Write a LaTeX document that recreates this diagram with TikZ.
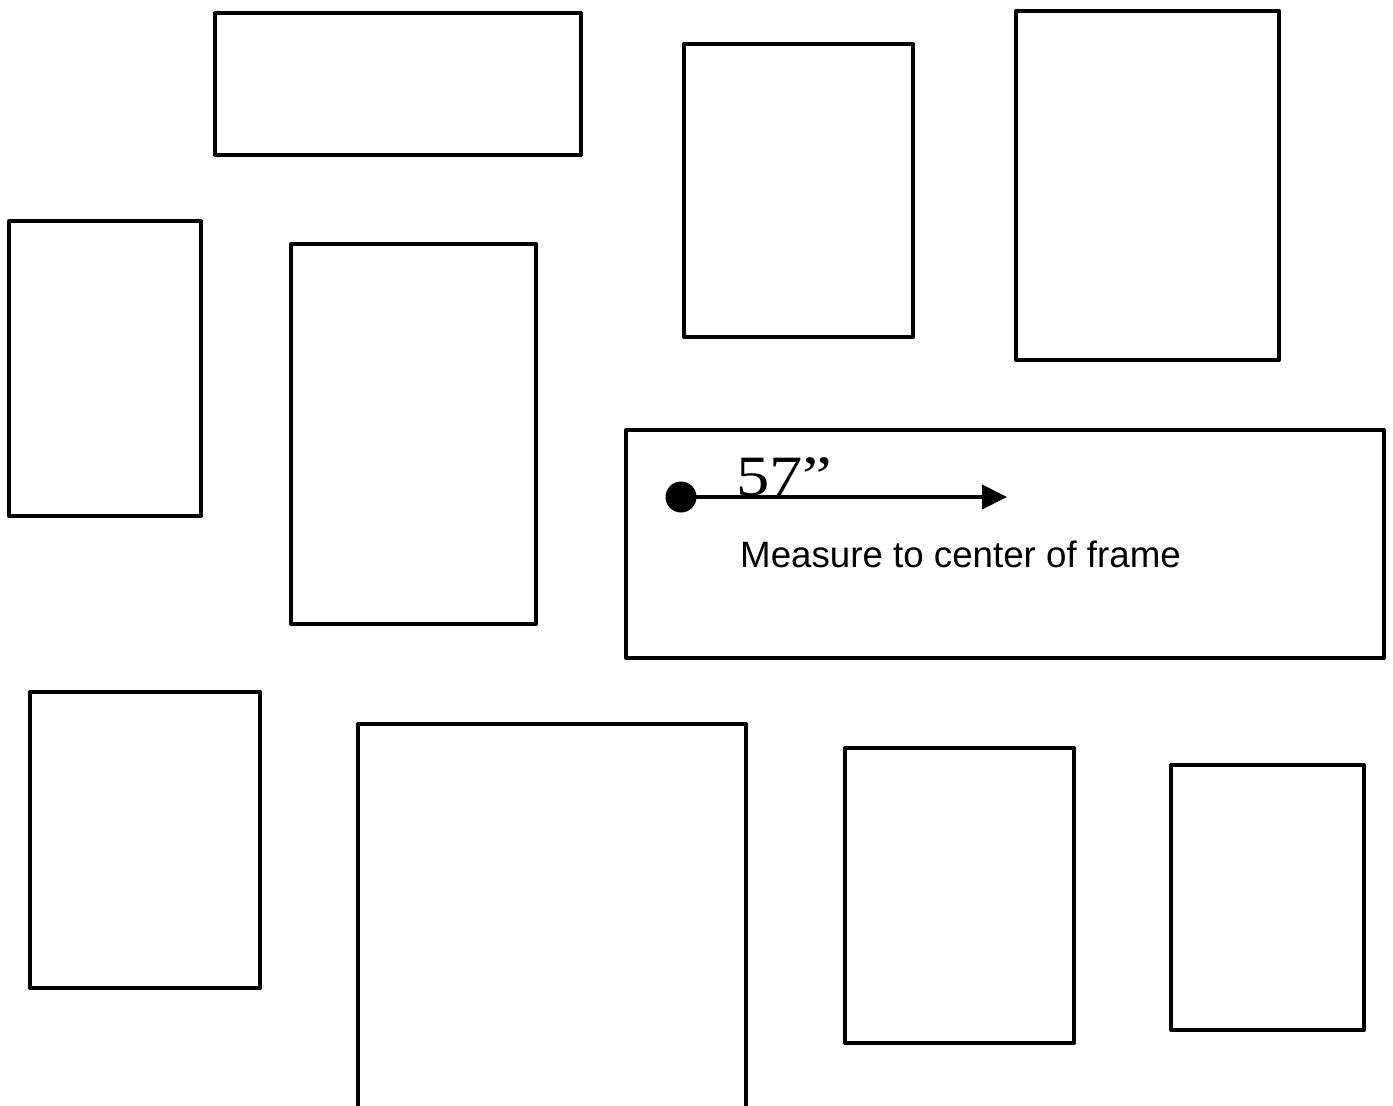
\documentclass[tikz,border=0pt]{standalone}
\usepackage{fontspec}
\setmainfont{Liberation Serif}
\newfontfamily\labelfont{Liberation Sans}
\usetikzlibrary{arrows.meta, positioning}
\tikzset{
  frame/.style={rectangle, draw=black, line width=4pt, line join=round,
                inner sep=0pt, outer sep=0pt},
  arrowK/.style={-{Triangle[length=25pt, width=24pt]}, line width=4pt},
}
\begin{document}
\begin{tikzpicture}[x=1pt, y=-1pt]
    \useasboundingbox[fill=white] (0,0) rectangle (1393,1106);
    % top row
    \node[frame, minimum width=366pt, minimum height=142pt] (fa) at (398,84) {};
    \node[frame, minimum width=229pt, minimum height=293pt] (fb) at (798.5,190.5) {};
    \node[frame, minimum width=263pt, minimum height=349pt] (fc) at (1147.5,185.5) {};
    % middle row
    \node[frame, minimum width=192pt, minimum height=295pt] (fd) at (105,368.5) {};
    \node[frame, minimum width=245pt, minimum height=380pt] (fe) at (413.5,434) {};
    \node[frame, minimum width=758pt, minimum height=228pt] (ff) at (1005,544) {};
    % bottom row
    \node[frame, minimum width=230pt, minimum height=296pt] (fg) at (145,840) {};
    \node[frame, minimum width=388pt, minimum height=420pt] (fh) at (552,934) {};
    \node[frame, minimum width=229pt, minimum height=295pt] (fi) at (959.5,895.5) {};
    \node[frame, minimum width=193pt, minimum height=265pt] (fj) at (1267.5,897.5) {};
    % measuring arrow
    \node[circle, fill=black, minimum size=31pt, inner sep=0pt] (dot) at (681,497) {};
    \coordinate (tip) at (1007,497);
    \draw[arrowK] (dot.center) -- (tip);
    \node[anchor=base west, inner sep=0pt, xscale=1.17, font=\fontsize{57}{57}\selectfont] (dist) at (736,495) {57”};
    \node[anchor=base west, inner sep=0pt, font=\labelfont\fontsize{36.7}{36.7}\selectfont] (note) at (740,567) {Measure to center of frame};
\end{tikzpicture}
\end{document}
